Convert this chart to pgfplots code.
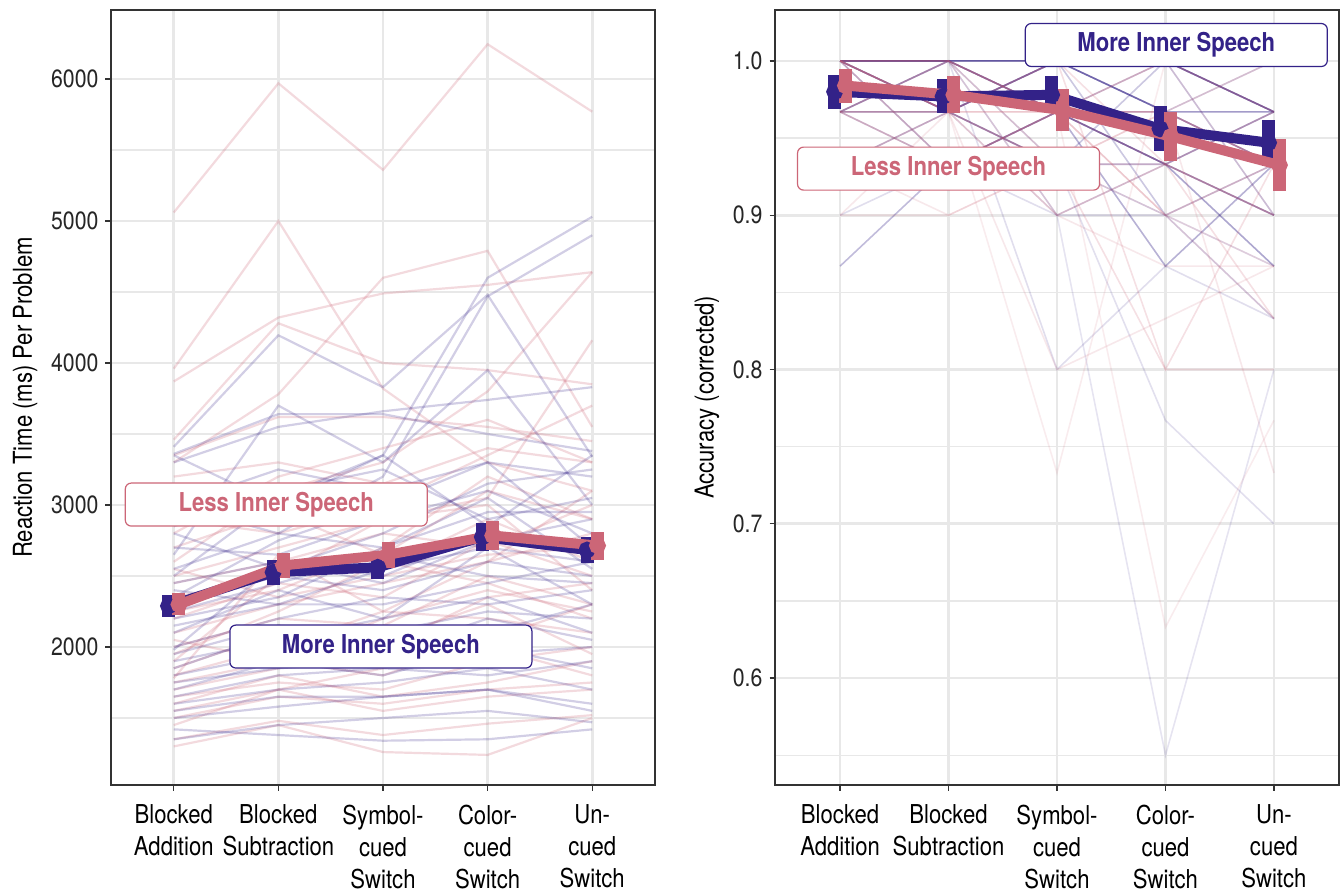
\documentclass[border=0pt]{standalone}
\usepackage{fontspec}
\setmainfont{TeX Gyre Heros}[FakeStretch=0.85]
\usepackage{pgfplots}
\pgfplotsset{compat=1.18}
\definecolor{pinkc}{HTML}{CC6677}
\definecolor{bluec}{HTML}{332288}
\definecolor{gridc}{HTML}{E8E8E8}
\definecolor{framec}{HTML}{333333}
\newcommand{\sline}[6]{\addplot[#1] coordinates {(0,#2)(1,#3)(2,#4)(3,#5)(4,#6)};}
\tikzset{
 boxs/.style={draw=#1, line width=0.6pt, fill=white, rounded corners=3pt, minimum width=151pt, minimum height=21.5pt, text=#1, font=\bfseries\fontsize{13}{15}\selectfont, inner sep=0pt},
 pl/.style={pinkc, opacity=0.24, line width=1.1pt},
 bl/.style={bluec, opacity=0.22, line width=1.1pt},
 pr/.style={pinkc, opacity=#1, line width=0.8pt},
 br/.style={bluec, opacity=#1, line width=0.8pt},
}
\pgfplotsset{
 panel/.style={
  scale only axis, height=387.5pt,
  xmin=-0.6, xmax=4.6,
  xtick={0,1,2,3,4},
  xticklabels={{Blocked\\Addition},{Blocked\\Subtraction},{Symbol-\\cued\\Switch},{Color-\\cued\\Switch},{Un-\\cued\\Switch}},
  xticklabel style={align=center, font=\fontsize{13}{16}\selectfont, text=black, yshift=-3.5pt},
  yticklabel style={font=\fontsize{12.5}{15}\selectfont, text=black!85},
  ylabel style={font=\fontsize{13}{15}\selectfont, text=black},
  axis line style={draw=framec, line width=0.6pt},
  tick align=outside,
  xtick pos=bottom, ytick pos=left,
  major tick length=2.75pt,
  minor tick length=0pt,
  tick style={draw=framec, line width=0.6pt},
  xmajorgrids, ymajorgrids, yminorgrids,
  major grid style={draw=gridc, line width=1.3pt},
  minor grid style={draw=gridc, line width=0.65pt},
  /pgf/number format/assume math mode=true,
 },
}
\begin{document}
\begin{tikzpicture}
\path[use as bounding box] (-55.5pt,-53pt) rectangle (615.5pt,392.5pt);
% ---------------- left panel ----------------
\begin{axis}[panel, at={(0pt,0pt)}, anchor=south west, width=272pt,
  ymin=1028, ymax=6486,
  ytick={2000,3000,4000,5000,6000},
  minor ytick={1500,2500,3500,4500,5500},
  yticklabel style={/pgf/number format/1000 sep={}},
  ylabel={Reaction Time (ms) Per Problem}]
% Less inner speech (pink)
\sline{pl}{5060}{5970}{5360}{6245}{5770}
\sline{pl}{3960}{5000}{3820}{3300}{3100}
\sline{pl}{3870}{4320}{4490}{4550}{4640}
\sline{pl}{3460}{4280}{4000}{3950}{3850}
\sline{pl}{3300}{3780}{4600}{4790}{3550}
\sline{pl}{2600}{3100}{3300}{3800}{4640}
\sline{pl}{2500}{2700}{2900}{3050}{4160}
\sline{pl}{3350}{3620}{3620}{3550}{3450}
\sline{pl}{3200}{3300}{3150}{3400}{3300}
\sline{pl}{2900}{2800}{3000}{3350}{3700}
\sline{pl}{2700}{2950}{2650}{3100}{2900}
\sline{pl}{2450}{2600}{2800}{2700}{3000}
\sline{pl}{2350}{2500}{2550}{2900}{2600}
\sline{pl}{2200}{2450}{2350}{2750}{2500}
\sline{pl}{2100}{2300}{2450}{2600}{2800}
\sline{pl}{2000}{2200}{2150}{2500}{2300}
\sline{pl}{1950}{2250}{2600}{2450}{2200}
\sline{pl}{1850}{2100}{2000}{2350}{2450}
\sline{pl}{1800}{2000}{2250}{2200}{2100}
\sline{pl}{1750}{1900}{1800}{2050}{2300}
\sline{pl}{1700}{1850}{2050}{2300}{1950}
\sline{pl}{1650}{1750}{1700}{1900}{2000}
\sline{pl}{1600}{1800}{1650}{1750}{1900}
\sline{pl}{1550}{1700}{1850}{2000}{1800}
\sline{pl}{1500}{1650}{1600}{1700}{1750}
\sline{pl}{1450}{1700}{1550}{1650}{1700}
\sline{pl}{1350}{1480}{1380}{1460}{1520}
\sline{pl}{1300}{1450}{1260}{1240}{1500}
\sline{pl}{2250}{2400}{2700}{3200}{2900}
\sline{pl}{2800}{3200}{3400}{3600}{3300}
\sline{pl}{1900}{2500}{2900}{3000}{2400}
\sline{pl}{2550}{2350}{2500}{2650}{2700}
\sline{pl}{1780}{2650}{2250}{2600}{3100}
\sline{pl}{2050}{1900}{2200}{2400}{2250}
% More inner speech (blue)
\sline{bl}{3410}{4195}{3830}{4480}{3340}
\sline{bl}{3350}{3000}{3350}{4600}{5030}
\sline{bl}{3000}{2800}{3200}{4470}{4900}
\sline{bl}{3360}{3640}{3640}{3500}{3380}
\sline{bl}{3300}{3550}{3660}{3740}{3830}
\sline{bl}{3000}{3250}{3100}{3300}{3200}
\sline{bl}{2850}{3100}{3250}{2900}{3050}
\sline{bl}{2700}{2650}{2900}{3100}{2800}
\sline{bl}{2550}{2800}{2700}{2950}{2950}
\sline{bl}{2450}{2600}{2500}{2800}{2700}
\sline{bl}{2400}{2300}{2550}{2700}{2600}
\sline{bl}{2300}{2500}{2400}{2600}{2500}
\sline{bl}{2250}{2450}{2650}{2500}{2450}
\sline{bl}{2150}{2300}{2300}{2450}{2600}
\sline{bl}{2100}{2400}{2200}{2700}{2300}
\sline{bl}{2000}{2200}{2350}{2300}{2400}
\sline{bl}{1950}{2150}{2100}{2250}{2200}
\sline{bl}{1900}{2050}{2200}{2350}{2100}
\sline{bl}{1850}{2100}{1950}{2200}{2050}
\sline{bl}{1800}{1950}{2000}{2100}{2300}
\sline{bl}{1750}{1850}{1900}{1950}{2000}
\sline{bl}{1700}{1900}{1800}{2000}{1850}
\sline{bl}{1650}{1800}{1850}{1800}{1900}
\sline{bl}{1600}{1700}{1750}{1850}{1700}
\sline{bl}{1550}{1650}{1650}{1700}{1600}
\sline{bl}{1500}{1580}{1650}{1700}{1550}
\sline{bl}{1420}{1380}{1340}{1350}{1420}
\sline{bl}{1350}{1450}{1500}{1550}{1470}
\sline{bl}{2650}{3700}{3300}{3950}{3000}
\sline{bl}{2500}{3050}{3350}{2850}{3350}
\sline{bl}{2350}{2750}{3000}{3300}{2700}
\sline{bl}{2800}{2550}{2800}{3150}{3250}
\sline{bl}{1980}{2600}{2450}{2750}{2900}
\sline{bl}{2200}{2350}{2700}{3050}{2550}
% means
\addplot[bluec, line width=5pt, mark=*, mark size=1.6pt,
  error bars/.cd, y dir=both, y explicit, error mark=none,
  error bar style={line width=6.5pt, bluec}]
  coordinates {(-0.05,2289) +- (0,78) (0.95,2526) +- (0,87) (1.95,2561) +- (0,85) (2.95,2775) +- (0,96) (3.95,2683) +- (0,94)};
\addplot[pinkc, line width=5pt, mark=*, mark size=1.6pt,
  error bars/.cd, y dir=both, y explicit, error mark=none,
  error bar style={line width=6.5pt, pinkc}]
  coordinates {(0.05,2300) +- (0,78) (1.05,2575) +- (0,90) (2.05,2650) +- (0,92) (3.05,2785) +- (0,99) (4.05,2714) +- (0,99)};
\node[boxs=pinkc] at (axis cs:0.98,3003) {Less Inner Speech};
\node[boxs=bluec] at (axis cs:1.98,2003) {More Inner Speech};
\end{axis}
% ---------------- right panel ----------------
\begin{axis}[panel, at={(332pt,0pt)}, anchor=south west, width=282pt,
  ymin=0.5307, ymax=1.033,
  ytick={0.6,0.7,0.8,0.9,1.0},
  minor ytick={0.55,0.65,0.75,0.85,0.95},
  yticklabel style={/pgf/number format/.cd, fixed, fixed zerofill, precision=1},
  ylabel={Accuracy (corrected)}]
% More (blue)
\sline{br=0.45}{1.0}{1.0}{1.0}{0.967}{0.967}
\sline{br=0.35}{1.0}{0.967}{1.0}{1.0}{0.967}
\sline{br=0.3}{0.967}{1.0}{0.967}{0.933}{0.9}
\sline{br=0.3}{1.0}{0.967}{0.933}{0.933}{0.967}
\sline{br=0.25}{0.967}{0.967}{1.0}{0.9}{0.933}
\sline{br=0.3}{0.867}{0.933}{0.967}{0.967}{0.933}
\sline{br=0.15}{0.967}{1.0}{0.8}{0.867}{0.833}
\sline{br=0.12}{0.933}{0.967}{0.9}{0.55}{0.8}
\sline{br=0.14}{1.0}{0.967}{0.933}{0.767}{0.7}
\sline{br=0.35}{1.0}{1.0}{0.967}{0.867}{0.933}
\sline{br=0.25}{0.967}{0.933}{0.967}{1.0}{0.9}
\sline{br=0.4}{1.0}{1.0}{0.967}{0.933}{0.867}
\sline{br=0.2}{0.933}{0.967}{1.0}{0.967}{1.0}
\sline{br=0.3}{1.0}{0.967}{1.0}{0.967}{0.933}
\sline{br=0.2}{0.967}{1.0}{0.933}{0.9}{0.833}
\sline{br=0.5}{1.0}{1.0}{1.0}{1.0}{0.967}
\sline{br=0.15}{0.9}{0.933}{0.9}{0.9}{0.867}
\sline{br=0.3}{1.0}{0.933}{0.967}{0.933}{0.9}
\sline{br=0.25}{0.967}{0.967}{0.933}{1.0}{0.967}
\sline{br=0.2}{1.0}{1.0}{0.9}{0.933}{0.967}
% Less (pink)
\sline{pr=0.12}{0.967}{0.933}{0.967}{0.633}{0.767}
\sline{pr=0.12}{0.933}{0.967}{0.733}{1.0}{0.9}
\sline{pr=0.2}{1.0}{0.967}{0.933}{0.8}{0.8}
\sline{pr=0.15}{0.9}{0.967}{0.8}{0.833}{0.867}
\sline{pr=0.3}{1.0}{1.0}{0.967}{0.967}{0.933}
\sline{pr=0.2}{0.967}{0.967}{1.0}{0.933}{0.9}
\sline{pr=0.25}{1.0}{0.933}{0.967}{0.9}{0.933}
\sline{pr=0.15}{0.967}{1.0}{0.9}{0.867}{0.867}
\sline{pr=0.15}{0.933}{0.9}{0.933}{0.967}{0.733}
\sline{pr=0.2}{1.0}{0.967}{1.0}{0.8}{0.933}
\sline{pr=0.2}{0.967}{0.967}{0.933}{0.933}{0.833}
\sline{pr=0.3}{1.0}{1.0}{0.967}{1.0}{0.967}
\sline{pr=0.2}{0.967}{0.933}{0.967}{0.967}{1.0}
\sline{pr=0.15}{0.9}{0.9}{0.933}{0.9}{0.867}
\sline{pr=0.25}{1.0}{0.967}{0.9}{0.933}{0.967}
\sline{pr=0.15}{0.933}{0.967}{0.967}{0.9}{0.833}
\sline{pr=0.2}{0.967}{1.0}{0.933}{0.967}{0.933}
\sline{pr=0.25}{1.0}{0.967}{0.967}{0.933}{0.9}
% means
\addplot[bluec, line width=5pt, mark=*, mark size=1.6pt,
  error bars/.cd, y dir=both, y explicit, error mark=none,
  error bar style={line width=6.5pt, bluec}]
  coordinates {(-0.05,0.980) +- (0,0.011) (0.95,0.977) +- (0,0.011) (1.95,0.978) +- (0,0.012) (2.95,0.956) +- (0,0.0145) (3.95,0.947) +- (0,0.015)};
\addplot[pinkc, line width=5pt, mark=*, mark size=1.6pt,
  error bars/.cd, y dir=both, y explicit, error mark=none,
  error bar style={line width=6.5pt, pinkc}]
  coordinates {(0.05,0.984) +- (0,0.011) (1.05,0.978) +- (0,0.012) (2.05,0.968) +- (0,0.0135) (3.05,0.951) +- (0,0.016) (4.05,0.9325) +- (0,0.017)};
\node[boxs=bluec] at (axis cs:3.1,1.0103) {More Inner Speech};
\node[boxs=pinkc] at (axis cs:1.0,0.9302) {Less Inner Speech};
\end{axis}
\end{tikzpicture}
\end{document}
